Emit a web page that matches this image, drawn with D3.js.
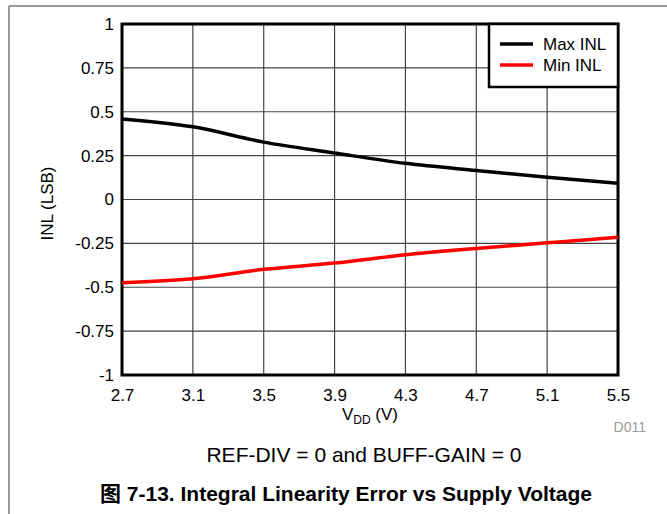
<!DOCTYPE html>
<html>
<head>
<meta charset="utf-8">
<script src="https://cdn.jsdelivr.net/npm/d3@7"></script>
<style>
  body { margin: 0; background: #fff; }
  svg { display: block; font-family: "Liberation Sans", Arial, sans-serif; }
</style>
</head>
<body>
<script>
// data
var vdd = [2.7, 3.1, 3.5, 3.9, 4.3, 4.7, 5.1, 5.5];
var maxInl = [0.459, 0.414, 0.327, 0.265, 0.206, 0.165, 0.127, 0.092];
var minInl = [-0.474, -0.452, -0.398, -0.362, -0.315, -0.279, -0.247, -0.215];
var yTicks = [1, 0.75, 0.5, 0.25, 0, -0.25, -0.5, -0.75, -1];
var yTickLabels = ["1", "0.75", "0.5", "0.25", "0", "-0.25", "-0.5", "-0.75", "-1"];
var seriesNames = ["Max INL", "Min INL"];
var seriesColors = ["#000000", "#ff0000"];

var W = 667, H = 514;
var margin = { top: 24, right: 49, bottom: 139, left: 122 },
    width = W - margin.left - margin.right,
    height = H - margin.top - margin.bottom;

var root = d3.select("body").append("svg")
    .attr("width", W)
    .attr("height", H);

// page frame lines
root.append("line").attr("x1", 9).attr("y1", 6).attr("x2", W).attr("y2", 6)
    .attr("stroke", "#777").attr("stroke-width", 1.5);
root.append("line").attr("x1", 9).attr("y1", 6).attr("x2", 9).attr("y2", H)
    .attr("stroke", "#777").attr("stroke-width", 1.5);

var svg = root.append("g")
    .attr("transform", "translate(" + margin.left + "," + margin.top + ")");

var x = d3.scaleLinear().domain([2.7, 5.5]).range([0, width]);
var y = d3.scaleLinear().domain([-1, 1]).range([height, 0]);

// grid
svg.append("g")
    .selectAll("line.vg")
    .data(vdd)
    .enter().append("line")
    .attr("x1", d => x(d)).attr("x2", d => x(d))
    .attr("y1", 0).attr("y2", height)
    .attr("stroke", "#444").attr("stroke-width", 1.2);

svg.append("g")
    .selectAll("line.hg")
    .data(yTicks)
    .enter().append("line")
    .attr("x1", 0).attr("x2", width)
    .attr("y1", d => y(d)).attr("y2", d => y(d))
    .attr("stroke", "#444").attr("stroke-width", 1.2);

// axes
var xAxis = d3.axisBottom(x).tickValues(vdd).tickSize(0).tickPadding(14)
    .tickFormat(d3.format(".1f"));
var yAxis = d3.axisLeft(y).tickValues(yTicks).tickSize(0).tickPadding(8)
    .tickFormat((d, i) => yTickLabels[i]);

var gx = svg.append("g").attr("transform", "translate(0," + height + ")").call(xAxis);
var gy = svg.append("g").call(yAxis);
[gx, gy].forEach(function (g) {
    g.select(".domain").remove();
    g.selectAll("text").style("font-size", "17px").style("fill", "#000")
        .style("font-family", "Liberation Sans, Arial, sans-serif");
});

// plot border
svg.append("rect")
    .attr("x", 0).attr("y", 0).attr("width", width).attr("height", height)
    .attr("fill", "none").attr("stroke", "#000").attr("stroke-width", 3);

// series
var line = d3.line()
    .x((d, i) => x(vdd[i]))
    .y(d => y(d))
    .curve(d3.curveMonotoneX);

[maxInl, minInl].forEach(function (s, k) {
    svg.append("path")
        .datum(s)
        .attr("fill", "none")
        .attr("stroke", seriesColors[k])
        .attr("stroke-width", 3.5)
        .attr("d", line);
});

// legend
var lg = svg.append("g").attr("transform", "translate(" + (width - 129) + ",0)");
lg.append("rect")
    .attr("x", 0).attr("y", 0).attr("width", 129).attr("height", 63)
    .attr("fill", "#fff").attr("stroke", "#000").attr("stroke-width", 2.5);
seriesNames.forEach(function (name, k) {
    var yy = 20 + k * 21;
    lg.append("line")
        .attr("x1", 11).attr("x2", 44).attr("y1", yy).attr("y2", yy)
        .attr("stroke", seriesColors[k]).attr("stroke-width", 3.5);
    lg.append("text")
        .attr("x", 54).attr("y", yy + 6)
        .style("font-size", "17px")
        .text(name);
});

// axis titles
var xt = svg.append("text")
    .attr("x", width / 2).attr("y", height + 45)
    .attr("text-anchor", "middle")
    .style("font-size", "17px");
xt.append("tspan").text("V");
xt.append("tspan").attr("dy", 4).style("font-size", "12px").text("DD");
xt.append("tspan").attr("dy", -4).text(" (V)");

svg.append("text")
    .attr("transform", "translate(-69," + (height / 2 + 4) + ") rotate(-90)")
    .attr("text-anchor", "middle")
    .style("font-size", "17px")
    .text("INL (LSB)");

svg.append("text")
    .attr("x", width + 28).attr("y", height + 57)
    .attr("text-anchor", "end")
    .style("font-size", "14px")
    .style("fill", "#999")
    .text("D011");

// captions
root.append("text")
    .attr("x", 364).attr("y", 462)
    .attr("text-anchor", "middle")
    .style("font-size", "21px")
    .text("REF-DIV = 0 and BUFF-GAIN = 0");

root.append("text")
    .attr("x", 346).attr("y", 501)
    .attr("text-anchor", "middle")
    .style("font-size", "21px")
    .style("font-weight", "bold")
    .style("font-family", "Liberation Sans, 'Noto Sans CJK SC', Arial, sans-serif")
    .text("图 7-13. Integral Linearity Error vs Supply Voltage");
</script>
</body>
</html>
